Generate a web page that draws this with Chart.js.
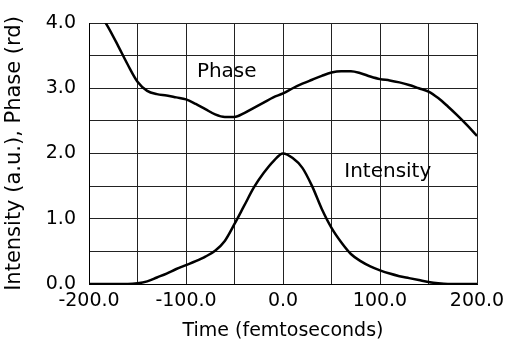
<!DOCTYPE html>
<html>
<head>
<meta charset="utf-8">
<script src="https://cdn.jsdelivr.net/npm/chart.js@4/dist/chart.umd.min.js"></script>
<style>
  html, body { margin: 0; padding: 0; background: #fff; }
  #wrap { width: 506px; height: 343px; }
</style>
</head>
<body>
<div id="wrap"><canvas id="pulse-chart"></canvas></div>
<script>
// values
const phaseTimes = [-190, -180, -170, -160, -150, -140, -130, -120, -110, -100, -90, -80, -70, -60, -50, -40, -30, -20, -10, 0,
    10, 20, 30, 40, 50, 60, 70, 80, 90, 100, 110, 120, 130, 140, 150, 160, 170, 180, 190, 200];
const phaseValues = [4.17, 3.93, 3.65, 3.36, 3.1, 2.96, 2.91, 2.89, 2.86, 2.83, 2.76, 2.68, 2.6, 2.56, 2.56, 2.62, 2.7, 2.78, 2.86, 2.92,
    3.0, 3.07, 3.13, 3.19, 3.24, 3.26, 3.26, 3.23, 3.18, 3.14, 3.12, 3.09, 3.05, 3.0, 2.95, 2.85, 2.72, 2.58, 2.43, 2.27];

const intensityTimes = [-200, -190, -180, -170, -160, -150, -140, -130, -120, -110, -100, -90, -80, -70, -60, -50, -40, -30, -20, -10, 0,
    10, 20, 30, 40, 50, 60, 70, 80, 90, 100, 110, 120, 130, 140, 150, 160, 170, 180, 190, 200];
const intensityValues = [0, 0, 0, 0, 0, 0.01, 0.04, 0.1, 0.16, 0.23, 0.29, 0.35, 0.42, 0.51, 0.66, 0.92, 1.2, 1.48, 1.7, 1.88, 2.0,
    1.93, 1.78, 1.5, 1.15, 0.86, 0.64, 0.46, 0.35, 0.27, 0.21, 0.16, 0.12, 0.09, 0.06, 0.03, 0.01, 0, 0, 0, 0];

// curve labels placed in data space
const curveLabels = [
    { text: 'Phase', t: -58, v: 3.25 },
    { text: 'Intensity', t: 108, v: 1.72 }
];

const FONT = '"DejaVu Sans", Verdana, sans-serif';

function toPoints(xs, ys) {
    return xs.map((x, i) => ({ x: x, y: ys[i] }));
}

const labelPlugin = {
    id: 'curveLabels',
    afterDatasetsDraw(chart) {
        const ctx = chart.ctx;
        const xs = chart.scales.x, ys = chart.scales.y;
        ctx.save();
        ctx.fillStyle = '#000';
        ctx.font = '20px ' + FONT;
        ctx.textAlign = 'center';
        ctx.textBaseline = 'middle';
        curveLabels.forEach(l => {
            ctx.fillText(l.text, xs.getPixelForValue(l.t), ys.getPixelForValue(l.v));
        });
        ctx.restore();
    }
};

const ctx = document.getElementById('pulse-chart');
new Chart(ctx, {
    type: 'line',
    data: {
        datasets: [{
            label: 'Phase',
            data: toPoints(phaseTimes, phaseValues),
            borderColor: '#000',
            borderWidth: 2.5,
            pointRadius: 0,
            cubicInterpolationMode: 'monotone'
        }, {
            label: 'Intensity',
            data: toPoints(intensityTimes, intensityValues),
            borderColor: '#000',
            borderWidth: 2.5,
            pointRadius: 0,
            cubicInterpolationMode: 'monotone'
        }]
    },
    plugins: [labelPlugin],
    options: {
        responsive: true,
        maintainAspectRatio: false,
        animation: false,
        layout: { padding: { top: 23, right: 29, left: 0, bottom: 0 } },
        plugins: {
            legend: { display: false },
            tooltip: { enabled: false }
        },
        scales: {
            x: {
                type: 'linear',
                min: -200,
                max: 200,
                afterFit: s => {
                    s.height = 59;
                    s.paddingLeft = 0;
                    s.paddingRight = 0;
                },
                border: { color: '#000', width: 1 },
                grid: { color: '#222', lineWidth: 1, drawTicks: false },
                ticks: {
                    stepSize: 50,
                    autoSkip: false,
                    maxRotation: 0,
                    padding: 6,
                    color: '#000',
                    font: { family: FONT, size: 19 },
                    callback: v => (v % 100 === 0 ? v.toFixed(1) : '')
                },
                title: {
                    display: true,
                    text: 'Time (femtoseconds)',
                    color: '#000',
                    font: { family: FONT, size: 19 },
                    padding: { top: 0, bottom: 1 }
                }
            },
            y: {
                min: 0,
                max: 4,
                afterFit: s => {
                    s.width = 89;
                    s.paddingTop = 0;
                    s.paddingBottom = 0;
                },
                border: { color: '#000', width: 1 },
                grid: { color: '#222', lineWidth: 1, drawTicks: false },
                ticks: {
                    stepSize: 0.5,
                    autoSkip: false,
                    padding: 13,
                    color: '#000',
                    font: { family: FONT, size: 19 },
                    callback: v => (v % 1 === 0 ? v.toFixed(1) : '')
                },
                title: {
                    display: true,
                    text: 'Intensity (a.u.), Phase (rd)',
                    color: '#000',
                    font: { family: FONT, size: 21 },
                    padding: { top: 2, bottom: 0 }
                }
            }
        }
    }
});
</script>
</body>
</html>
